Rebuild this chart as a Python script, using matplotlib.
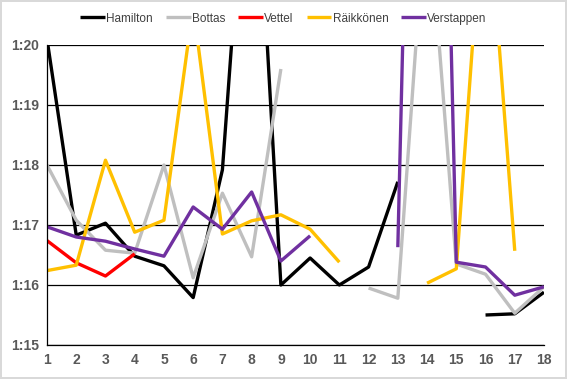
import numpy as np
import matplotlib
matplotlib.use("Agg")
import matplotlib.pyplot as plt
import matplotlib.ticker as ticker

nan = np.nan
laps = list(range(1, 19))

# lap times in seconds (clipped values above 1:20 are estimates)
hamilton = [80.1, 76.83, 77.03, 76.48, 76.32, 75.79, 77.92, 84.6, 76.0, 76.45,
            76.0, 76.3, 77.72, nan, nan, 75.5, 75.52, 75.88]
bottas = [78.0, 77.08, 76.58, 76.53, 78.0, 76.12, 77.53, 76.47, 79.6, nan,
          nan, 75.95, 75.78, 82.6, 76.35, 76.18, 75.53, 75.97]
vettel = [76.74, 76.37, 76.15, 76.52, nan, nan, nan, nan, nan, nan,
          nan, nan, nan, nan, nan, nan, nan, nan]
raikkonen = [76.24, 76.33, 78.08, 76.88, 77.08, 80.65, 76.85, 77.07, 77.17, 76.93,
             76.38, nan, nan, 76.03, 76.27, 83.0, 76.57, nan]
verstappen = [76.97, 76.8, 76.73, 76.6, 76.48, 77.3, 76.93, 77.55, 76.4, 76.82,
              nan, nan, 76.63, 97.0, 76.38, 76.3, 75.83, 75.97]

drivers = ["Hamilton", "Bottas", "Vettel", "Räikkönen", "Verstappen"]
series = [hamilton, bottas, vettel, raikkonen, verstappen]
colors = ["#000000", "#BFBFBF", "#FF0000", "#FFC000", "#7030A0"]

plt.rcParams['font.family'] = 'Liberation Sans'

fig = plt.figure(figsize=(5.67, 3.79), dpi=100)
fig.patch.set_edgecolor('#D9D9D9')
fig.patch.set_linewidth(1.5)
ax = fig.add_axes([47 / 567, 1 - 345 / 379, (544 - 47) / 567, 300 / 379])

for name, vals, col in zip(drivers, series, colors):
    ax.plot(laps, vals, color=col, lw=2.4, label=name, solid_capstyle='butt')

ax.set_xlim(1, 18)
ax.set_ylim(75, 80)
ax.set_xticks(laps)
ax.set_yticks(range(75, 81))
ax.yaxis.set_major_formatter(ticker.FuncFormatter(lambda v, p: f"1:{int(round(v)) - 60:02d}"))
ax.grid(axis='y', color='black', lw=0.9)
ax.set_axisbelow(True)
for s in ['top', 'right']:
    ax.spines[s].set_visible(False)
for s in ['left', 'bottom']:
    ax.spines[s].set_color('black')
    ax.spines[s].set_linewidth(0.9)
ax.tick_params(length=0, pad=6, labelcolor='#595959', labelsize=10)
for lbl in ax.get_xticklabels() + ax.get_yticklabels():
    lbl.set_fontweight('bold')

fig.legend(loc='upper center', bbox_to_anchor=(0.5, 0.995), ncol=5, frameon=False,
           handlelength=2.1, handletextpad=0.1, columnspacing=1.1,
           prop={'size': 8.5}, labelcolor='#404040')

fig.savefig("out.png", dpi=100, edgecolor=fig.get_edgecolor())
